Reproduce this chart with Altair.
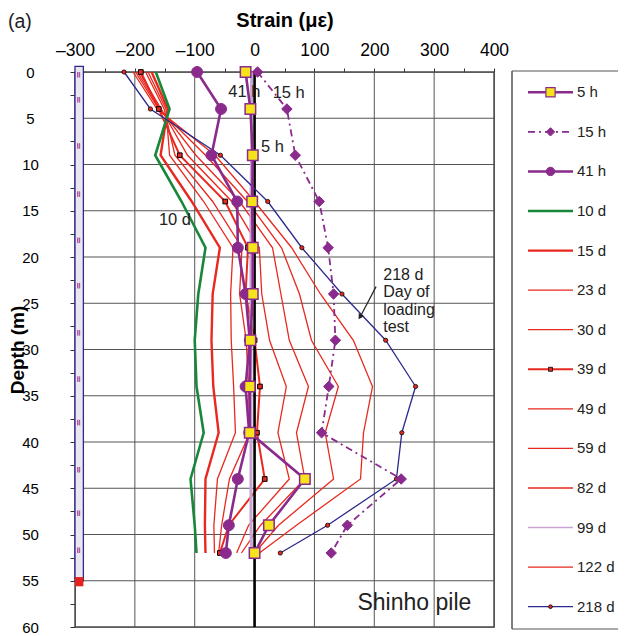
import altair as alt
import pandas as pd

FONT = "Liberation Sans"

# ---------------- data ----------------
depths = [0, 4, 9, 14, 19, 24, 29, 34, 39, 44, 49, 52]

s_5h   = [-15, -7, -3, -4, -3, -3, -7, -8, -8, 84, 24, 0]
s_15h  = [5, 54, 68, 108, 123, 132, 135, 124, 112, 245, 155, 128]
s_41h  = [-96, -56, -72, -29, -28, -15, -8, -15, -9, -28, -43, -48]
s_10d  = [-165, -142, -166, -122, -82, -94, -100, -97, -85, -107, -100, -97]
s_15d  = [-172, -145, -157, -105, -58, -70, -72, -69, -60, -82, -83, -82]
s_23d  = [-178, -148, -142, -85, -36, -40, -39, -35, -32, -62, -68, -67]
s_30d  = [-182, -151, -133, -70, -21, -25, -14, -10, -8, -42, -55, -60]
s_39d  = [-190, -160, -125, -49, -11, -15, 0, 9, 4, 17, -43, -58]
s_49d  = [-193, -156, -112, -38, 8, 12, 25, 53, 39, 58, -10, -30]
s_59d  = [-196, -158, -98, -25, 30, 44, 58, 90, 70, 84, 10, -22]
s_82d  = [-199, -160, -82, -12, 45, 75, 95, 140, 118, 132, 40, 0]
s_99d  = [-5, -5, -5, -6, -6, -6, -6, -6, -6, -6, -6, -5]
s_122d = [-203, -163, -66, 0, 62, 110, 165, 197, 182, 177, 70, 8]
s_218d = [-218, -174, -57, 22, 79, 146, 219, 269, 246, 237, 122, 43]

series_names = ["5 h", "15 h", "41 h", "10 d", "15 d", "23 d", "30 d", "39 d",
                "49 d", "59 d", "82 d", "99 d", "122 d", "218 d"]
series_values = [s_5h, s_15h, s_41h, s_10d, s_15d, s_23d, s_30d, s_39d,
                 s_49d, s_59d, s_82d, s_99d, s_122d, s_218d]
legend_labels = ["\u20075 h", "15 h", "41 h", "10 d", "15 d", "23 d", "30 d", "39 d",
                 "49 d", "59 d", "82 d", "99 d", "122 d", "218 d"]

x_ticks = list(range(-300, 401, 50))
x_grid = list(range(-300, 401, 100))
y_ticks = [i * 2.5 for i in range(25)]
y_grid = list(range(0, 61, 5))

pile_x = [-300, -286]
pile_depth = [-0.6, 55.0]
toe_depth = [54.6, 55.6]
gauge_marks = [0, 2.7, 7.7, 12.9, 17.9, 22.8, 27.9, 32.9, 37.6, 42.7, 47.4, 51.4]

# annotations
notes_text = ["41 h", "15 h", "5 h", "10 d"]
notes_x = [-17, 57, 30, -133]
notes_y = [2.2, 2.3, 8.1, 16.0]
box_text = ["218 d", "Day of", "loading", "test"]
box_x = [215, 215, 215, 215]
box_y = [21.9, 23.8, 25.7, 27.6]
arrow_x = [203, 177]
arrow_y = [23.2, 26.4]

# ---------------- styles ----------------
PURPLE = "#8a2a8c"
RED = "#e8291f"
GREEN = "#17883a"
NAVY = "#2c2a8c"
LILAC = "#c9a3d3"
YELLOW = "#f6e31b"

style = {
    "5 h":   dict(color=PURPLE, strokeWidth=2.6),
    "15 h":  dict(color=PURPLE, strokeWidth=1.8, strokeDash=[7, 4, 2, 4]),
    "41 h":  dict(color=PURPLE, strokeWidth=2.6),
    "10 d":  dict(color=GREEN, strokeWidth=2.6),
    "15 d":  dict(color=RED, strokeWidth=2.4),
    "23 d":  dict(color=RED, strokeWidth=1.3),
    "30 d":  dict(color=RED, strokeWidth=1.3),
    "39 d":  dict(color=RED, strokeWidth=2.0),
    "49 d":  dict(color=RED, strokeWidth=1.3),
    "59 d":  dict(color=RED, strokeWidth=1.3),
    "82 d":  dict(color=RED, strokeWidth=1.3),
    "99 d":  dict(color=LILAC, strokeWidth=3.0),
    "122 d": dict(color=RED, strokeWidth=1.3),
    "218 d": dict(color=NAVY, strokeWidth=1.3),
}
draw_order = ["23 d", "30 d", "49 d", "59 d", "82 d", "122 d", "15 d", "39 d",
              "10 d", "99 d", "ZERO", "218 d", "41 h", "15 h", "5 h"]

markers = {
    "218 d": dict(shape="circle", size=18, fill=RED, stroke="black", strokeWidth=0.8),
    "39 d":  dict(shape="square", size=22, fill=RED, stroke="black", strokeWidth=1.0),
    "41 h":  dict(shape="circle", size=120, fill=PURPLE, stroke=PURPLE, strokeWidth=1),
    "15 h":  dict(shape="diamond", size=110, fill=PURPLE, stroke=PURPLE, strokeWidth=1),
    "5 h":   dict(shape="square", size=110, fill=YELLOW, stroke=PURPLE, strokeWidth=1.5),
}
leg_markers = {
    "5 h":   dict(shape="square", size=85, fill=YELLOW, stroke=PURPLE, strokeWidth=1.2),
    "15 h":  dict(shape="diamond", size=70, fill=PURPLE, stroke=PURPLE, strokeWidth=1),
    "41 h":  dict(shape="circle", size=70, fill=PURPLE, stroke=PURPLE, strokeWidth=1),
    "39 d":  dict(shape="square", size=16, fill=RED, stroke="black", strokeWidth=0.8),
    "218 d": dict(shape="circle", size=14, fill=RED, stroke="black", strokeWidth=0.8),
}

# ---------------- tables ----------------
rows = []
for name, vals in zip(series_names, series_values):
    for d, v in zip(depths, vals):
        rows.append({"series": name, "depth": d, "strain": v})
df = pd.DataFrame(rows)

W, H = 419, 555
xs = alt.Scale(domain=[-300, 400], nice=False, zero=False)
ys = alt.Scale(domain=[0, 60], reverse=True, nice=False, zero=False)

xa = alt.Axis(
    orient="top", values=x_ticks,
    labelExpr="datum.value % 100 === 0 ? (datum.value < 0 ? '\u2013' + format(-datum.value, 'd') : format(datum.value, 'd')) : ''",
    grid=False, domain=False, tickSize=4, tickColor="#333", tickWidth=1,
    labelFontSize=17.5, labelColor="black", labelPadding=9, labelFlush=False,
    labelFont=FONT, labelOverlap=False,
    title="Strain (\u03bc\u03b5)", titleFontSize=20, titleFontWeight="bold",
    titleColor="black", titleFont=FONT, titlePadding=11,
)
ya = alt.Axis(
    values=y_ticks,
    labelExpr="datum.value % 5 === 0 ? format(datum.value, 'd') : ''",
    grid=False, domain=False, tickSize=5, tickColor="#333", tickWidth=1,
    labelFontSize=15, labelColor="black", labelPadding=40, labelAlign="center",
    labelFont=FONT, labelOverlap=False,
    title="Depth (m)", titleFontSize=19, titleFontWeight="bold",
    titleColor="black", titleFont=FONT, titlePadding=-6,
)


def X(field):
    return alt.X(field, type="quantitative", scale=xs, axis=xa)


def Y(field):
    return alt.Y(field, type="quantitative", scale=ys, axis=ya)


layers = []
layers.append(alt.Chart(pd.DataFrame({"x": x_grid})).mark_rule(color="#555", strokeWidth=1).encode(x=X("x")))
layers.append(alt.Chart(pd.DataFrame({"y": y_grid})).mark_rule(color="#555", strokeWidth=1).encode(y=Y("y")))

# pile schematic
pile_df = pd.DataFrame({"x1": [pile_x[0]], "x2": [pile_x[1]], "y1": [pile_depth[0]], "y2": [pile_depth[1]]})
layers.append(alt.Chart(pile_df).mark_rect(fill="#ebe7f1", stroke=NAVY, strokeWidth=1.3).encode(
    x=X("x1"), x2="x2", y=Y("y1"), y2="y2"))
toe_df = pd.DataFrame({"x1": [pile_x[0]], "x2": [pile_x[1]], "y1": [toe_depth[0]], "y2": [toe_depth[1]]})
layers.append(alt.Chart(toe_df).mark_rect(fill="#e5221b").encode(
    x=X("x1"), x2="x2", y=Y("y1"), y2="y2"))
gm = pd.DataFrame({"d": gauge_marks, "d2": [g + 0.6 for g in gauge_marks]})
for gx in (-295.5, -292.5):
    layers.append(alt.Chart(gm).mark_rule(color="#b25aa9", strokeWidth=1.4).encode(
        x=X("xx"), y=Y("d"), y2="d2").transform_calculate(xx=str(gx)))

for name in draw_order:
    if name == "ZERO":
        layers.append(alt.Chart(pd.DataFrame({"x": [0]})).mark_rule(color="black", strokeWidth=2.6).encode(x=X("x")))
        continue
    st = style[name]
    layers.append(
        alt.Chart(df).transform_filter(alt.datum.series == name)
        .mark_line(**st).encode(x=X("strain"), y=Y("depth"), order=alt.Order("depth:Q"))
    )

for name in ["218 d", "39 d", "41 h", "15 h", "5 h"]:
    mk = markers[name]
    layers.append(
        alt.Chart(df).transform_filter(alt.datum.series == name)
        .mark_point(filled=True, opacity=1, **mk).encode(x=X("strain"), y=Y("depth"))
    )

# text annotations
notes_df = pd.DataFrame({"t": notes_text, "x": notes_x, "y": notes_y})
layers.append(alt.Chart(notes_df).mark_text(fontSize=16.5, font=FONT, color="#222").encode(
    x=X("x"), y=Y("y"), text="t:N"))
box_df = pd.DataFrame({"t": box_text, "x": box_x, "y": box_y})
layers.append(alt.Chart(box_df).mark_text(fontSize=16, font=FONT, color="#222", align="left").encode(
    x=X("x"), y=Y("y"), text="t:N"))
arr_df = pd.DataFrame({"x1": [arrow_x[0]], "x2": [arrow_x[1]], "y1": [arrow_y[0]], "y2": [arrow_y[1]]})
layers.append(alt.Chart(arr_df).mark_rule(color="#222", strokeWidth=1.2).encode(
    x=X("x1"), x2="x2", y=Y("y1"), y2="y2"))
layers.append(alt.Chart(arr_df).mark_point(shape="triangle", filled=True, color="#222", size=40,
                                            angle=212, opacity=1).encode(x=X("x2"), y=Y("y2")))
layers.append(alt.Chart(pd.DataFrame({"t": ["Shinho pile"], "x": [267], "y": [57.4]})).mark_text(
    fontSize=23, font=FONT, color="#222").encode(x=X("x"), y=Y("y"), text="t:N"))
layers.append(alt.Chart(pd.DataFrame({"t": ["(a)"], "x": [-392], "y": [-5.4]})).mark_text(
    fontSize=19.5, font=FONT, color="#222").encode(x=X("x"), y=Y("y"), text="t:N"))

main = alt.layer(*layers)

# ---------------- legend (drawn beside the plot, own point scale) ----------------
LX = W + 18          # left edge of legend box (pixels from plot left)
LR = W + 124         # right end of box lines (window edge)
leg_df = pd.DataFrame({"series": series_names, "label": legend_labels})
LY = alt.Y("series:N", scale=alt.Scale(type="point", domain=series_names, padding=0.513), axis=None)
leg_layers = []
for name in series_names:
    st = dict(style[name])
    if name == "99 d":
        st["strokeWidth"] = 1.5
    leg_layers.append(
        alt.Chart(leg_df).transform_filter(alt.datum.series == name)
        .mark_rule(**st).encode(y=LY, x=alt.value(LX + 16), x2=alt.value(LX + 61))
    )
for name, mk in leg_markers.items():
    leg_layers.append(
        alt.Chart(leg_df).transform_filter(alt.datum.series == name)
        .mark_point(filled=True, opacity=1, **mk).encode(y=LY, x=alt.value(LX + 38.5))
    )
leg_layers.append(
    alt.Chart(leg_df).mark_text(align="left", baseline="middle", fontSize=15, font=FONT, color="#222")
    .encode(y=LY, x=alt.value(LX + 65), text="label:N")
)
one = pd.DataFrame({"k": [0]})
leg_layers.append(alt.Chart(one).mark_rule(color="#555", strokeWidth=1.5).encode(
    x=alt.value(LX), y=alt.value(-1), y2=alt.value(H + 2)))
leg_layers.append(alt.Chart(one).mark_rule(color="#555", strokeWidth=1.2).encode(
    x=alt.value(LX), x2=alt.value(LR), y=alt.value(-1)))
leg_layers.append(alt.Chart(one).mark_rule(color="#555", strokeWidth=1.2).encode(
    x=alt.value(LX), x2=alt.value(LR), y=alt.value(H + 2)))
legend = alt.layer(*leg_layers)

chart = alt.layer(main, legend).resolve_scale(y="independent").properties(
    width=W, height=H,
    autosize=alt.AutoSizeParams(type="none"),
    padding={"left": 67, "top": 64, "right": 124, "bottom": 8},
).configure(font=FONT).configure_view(stroke="#333", strokeWidth=1.3)

chart.save("out.html", embed_options={"renderer": "svg", "actions": False})
